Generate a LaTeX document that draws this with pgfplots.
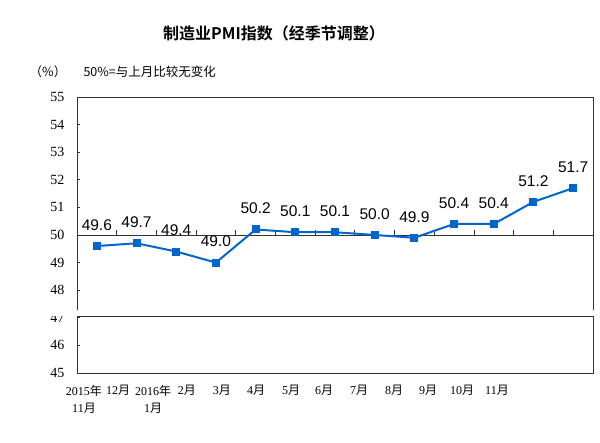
\documentclass[border=0pt]{standalone}
\usepackage{pgfplots}
\pgfplotsset{compat=1.18}
\usepackage{fontspec}
\setmainfont{Liberation Serif}
\newfontfamily\cjk{Noto Sans CJK SC}
\newfontfamily\cjkb{Noto Sans CJK SC Bold}
\newfontfamily\sansf{Liberation Sans}
\definecolor{pmiblue}{RGB}{0,102,204}
\newcommand\yue{{\cjk 月}}
\newcommand\nian{{\cjk 年}}
\begin{document}
\begin{tikzpicture}
\useasboundingbox (-77pt,-70pt) rectangle (523pt,373pt);
\begin{axis}[
  at={(0,0)}, anchor=south west,
  scale only axis, width=516pt, height=276pt,
  xmin=-0.5, xmax=12.5, ymin=45, ymax=55,
  ytick={45,46,...,55},
  ytick pos=left, tick align=inside, major tick length=3pt,
  /pgf/number format/assume math mode=true,
  yticklabel style={font=\fontsize{14}{14}\selectfont, xshift=-9pt},
  xtick={-0.324,0.533,1.415,2.271,3.153,4.010,4.892,5.723,6.605,7.487,8.343,9.200,10.082},
  xticklabels={2015\nian\\11\yue, 12\yue, 2016\nian\\1\yue, 2\yue, 3\yue, 4\yue, 5\yue, 6\yue, 7\yue, 8\yue, 9\yue, 10\yue, 11\yue},
  x tick style={draw=none},
  xticklabel style={align=center, anchor=north, font=\fontsize{12}{17}\selectfont, yshift=-9pt},
  axis line style={draw=black!80, line width=0.8pt},
  y tick style={black!80, line width=0.8pt},
  clip=false,
]
\draw[black!80, line width=0.8pt] (axis cs:-0.5,50) -- (axis cs:12.5,50);
\pgfplotsinvokeforeach{0.5,1.5,2.5,3.5,4.5,5.5,6.5,7.5,8.5,9.5,10.5,11.5}{
  \draw[black!80, line width=0.8pt] (axis cs:#1,50) -- ([yshift=5pt]axis cs:#1,50);
}
\addplot[color=pmiblue, line width=2pt, mark=square*, mark size=3pt,
  nodes near coords={\pgfmathprintnumber[fixed,fixed zerofill,precision=1]{\pgfplotspointmeta}},
  every node near coord/.append style={anchor=center, yshift=21pt, inner sep=0pt, text=black,
     font=\sansf\fontsize{15.5}{15.5}\selectfont}]
coordinates {
(0,49.6) (1,49.7) (2,49.4) (3,49.0) (4,50.2) (5,50.1) (6,50.1)
(7,50.0) (8,49.9) (9,50.4) (10,50.4) (11,51.2) (12,51.7)
};
\fill[white] ([xshift=-30pt]axis cs:-0.5,47.07) rectangle ([xshift=3pt]axis cs:12.5,47.3);
\draw[black!80, line width=0.8pt] (axis cs:-0.5,47.05) -- (axis cs:12.5,47.05);
\end{axis}
\node[font=\cjkb\fontsize{16}{16}\selectfont] at (197pt,340pt) {制造业PMI指数（经季节调整）};
\node[font=\cjk\fontsize{12.5}{12.5}\selectfont] at (-29pt,301pt) {（\%）};
\node[font=\cjk\fontsize{12.5}{12.5}\selectfont, anchor=west] at (3pt,301pt) {50\%=与上月比较无变化};
\end{tikzpicture}
\end{document}
